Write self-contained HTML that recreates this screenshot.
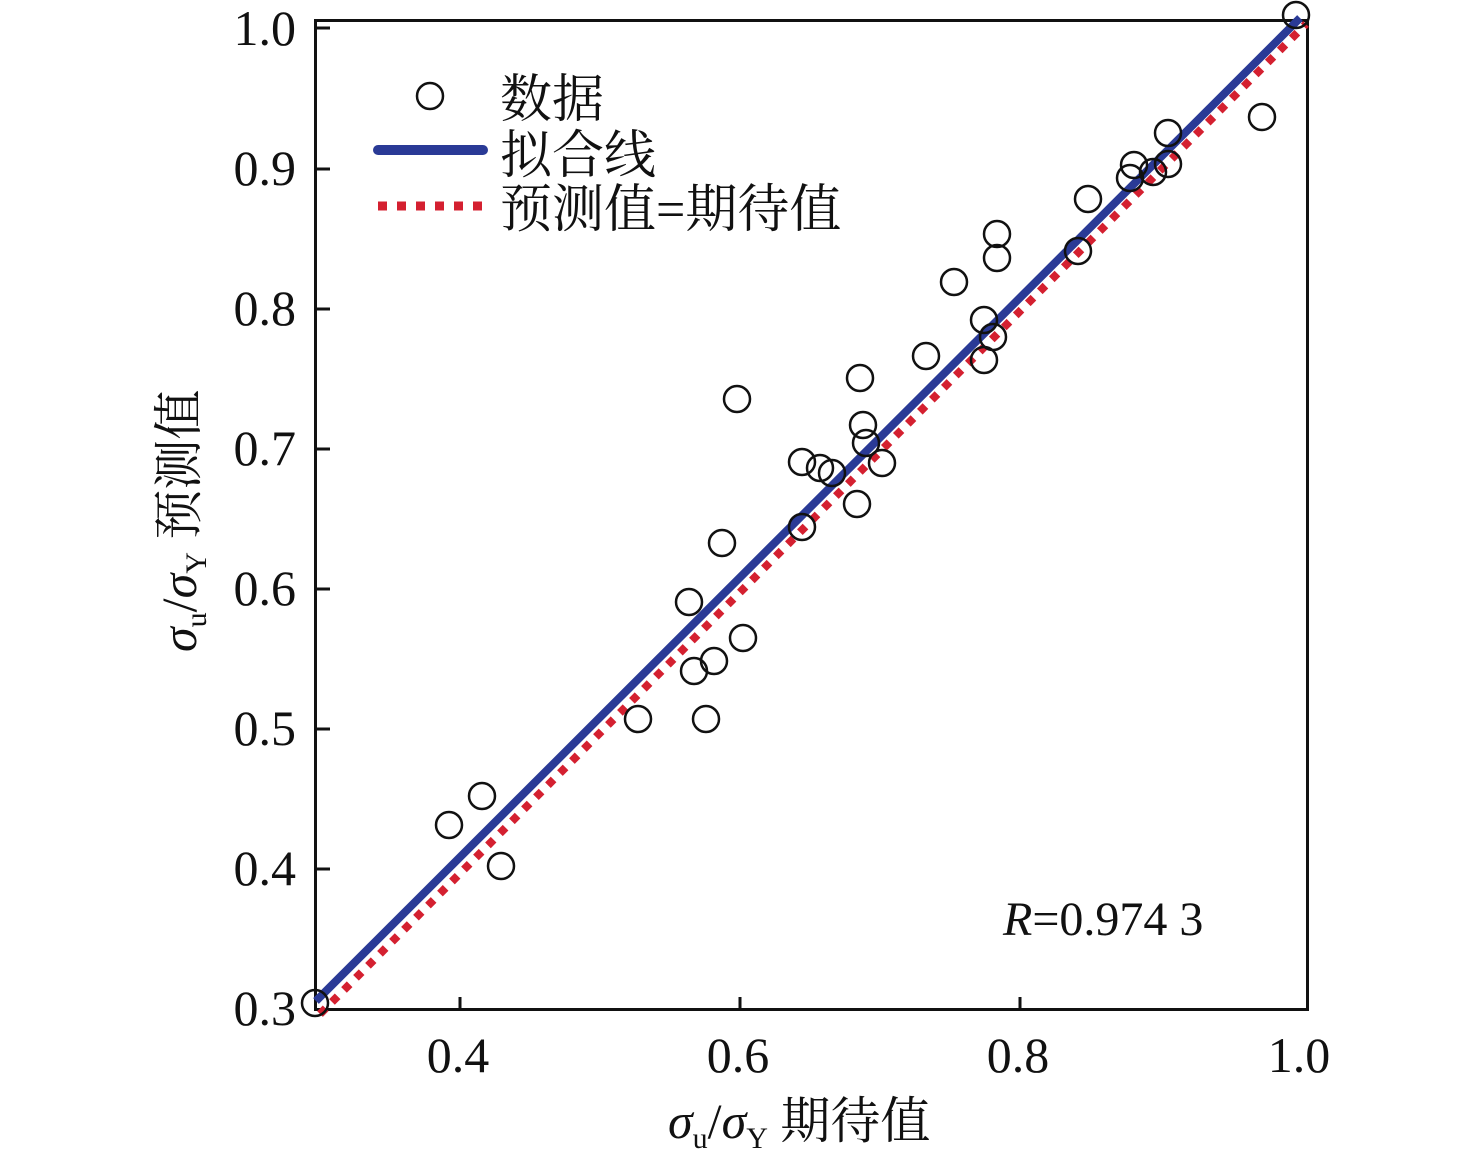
<!DOCTYPE html><html><head><meta charset="utf-8"><style>body{margin:0;background:#fff}svg{display:block}text{font-family:"Liberation Serif","Noto Serif CJK SC",serif;fill:#111}</style></head><body>
<svg width="1476" height="1164" viewBox="0 0 1476 1164">
<rect x="315.5" y="20.5" width="992" height="989" fill="none" stroke="#111" stroke-width="3"/>
<g stroke="#111" stroke-width="3">
<line x1="460" y1="1010" x2="460" y2="997"/><line x1="740" y1="1010" x2="740" y2="997"/><line x1="1020" y1="1010" x2="1020" y2="997"/>
<line x1="315" y1="28" x2="330" y2="28"/><line x1="315" y1="169" x2="330" y2="169"/><line x1="315" y1="309" x2="330" y2="309"/><line x1="315" y1="449" x2="330" y2="449"/><line x1="315" y1="589" x2="330" y2="589"/><line x1="315" y1="729" x2="330" y2="729"/><line x1="315" y1="869" x2="330" y2="869"/>
</g>
<g font-size="50" text-anchor="end">
<text x="296" y="45">1.0</text><text x="296" y="185">0.9</text><text x="296" y="325">0.8</text><text x="296" y="465">0.7</text><text x="296" y="605">0.6</text><text x="296" y="745">0.5</text><text x="296" y="885">0.4</text><text x="296" y="1025">0.3</text>
</g>
<g font-size="50" text-anchor="middle">
<text x="458" y="1072">0.4</text><text x="738" y="1072">0.6</text><text x="1018" y="1072">0.8</text><text x="1299" y="1072">1.0</text>
</g>
<line x1="320" y1="1014" x2="1306" y2="24" stroke="#d42030" stroke-width="8" stroke-dasharray="8,9"/>
<line x1="316" y1="1001" x2="1300" y2="18" stroke="#2a3a96" stroke-width="8"/>
<g fill="none" stroke="#111" stroke-width="2.5">
<circle cx="315" cy="1003" r="13"/><circle cx="449" cy="825" r="13"/><circle cx="482" cy="796" r="13"/><circle cx="501" cy="866" r="13"/><circle cx="638" cy="719" r="13"/><circle cx="689" cy="602" r="13"/><circle cx="694" cy="671" r="13"/><circle cx="714" cy="661" r="13"/><circle cx="706" cy="719" r="13"/><circle cx="722" cy="543" r="13"/><circle cx="743" cy="638" r="13"/><circle cx="737" cy="399" r="13"/><circle cx="802" cy="462" r="13"/><circle cx="802" cy="527" r="13"/><circle cx="820" cy="468" r="13"/><circle cx="832" cy="473" r="13"/><circle cx="860" cy="378" r="13"/><circle cx="863" cy="425" r="13"/><circle cx="866" cy="443" r="13"/><circle cx="857" cy="504" r="13"/><circle cx="882" cy="463" r="13"/><circle cx="926" cy="356" r="13"/><circle cx="954" cy="282" r="13"/><circle cx="984" cy="320" r="13"/><circle cx="984" cy="360" r="13"/><circle cx="993" cy="337" r="13"/><circle cx="997" cy="234" r="13"/><circle cx="997" cy="258" r="13"/><circle cx="1078" cy="251" r="13"/><circle cx="1088" cy="199" r="13"/><circle cx="1130" cy="178" r="13"/><circle cx="1134" cy="165" r="13"/><circle cx="1153" cy="172" r="13"/><circle cx="1168" cy="133" r="13"/><circle cx="1168" cy="164" r="13"/><circle cx="1262" cy="117" r="13"/><circle cx="1296" cy="15" r="13"/>
<circle cx="430" cy="96" r="13"/>
</g>
<line x1="378" y1="150" x2="483" y2="150" stroke="#2a3a96" stroke-width="10" stroke-linecap="round"/>
<line x1="378" y1="206" x2="482" y2="206" stroke="#d42030" stroke-width="9" stroke-dasharray="9,10"/>
<g font-size="52"><text x="500" y="117">数据</text><text x="500" y="173">拟合线</text><text x="500" y="227">预测值=期待值</text></g>
<text x="1003" y="935" font-size="48"><tspan font-style="italic">R</tspan>=0.974 3</text>
<text x="668" y="1138" font-size="50"><tspan font-style="italic">σ</tspan><tspan font-size="30" dy="10">u</tspan><tspan dy="-10">/</tspan><tspan font-style="italic">σ</tspan><tspan font-size="30" dy="10">Y</tspan><tspan dy="-10"> 期待值</tspan></text>
<text transform="translate(196,652) rotate(-90)" font-size="50"><tspan font-style="italic">σ</tspan><tspan font-size="30" dy="10">u</tspan><tspan dy="-10">/</tspan><tspan font-style="italic">σ</tspan><tspan font-size="30" dy="10">Y</tspan><tspan dy="-10"> 预测值</tspan></text>
</svg></body></html>
